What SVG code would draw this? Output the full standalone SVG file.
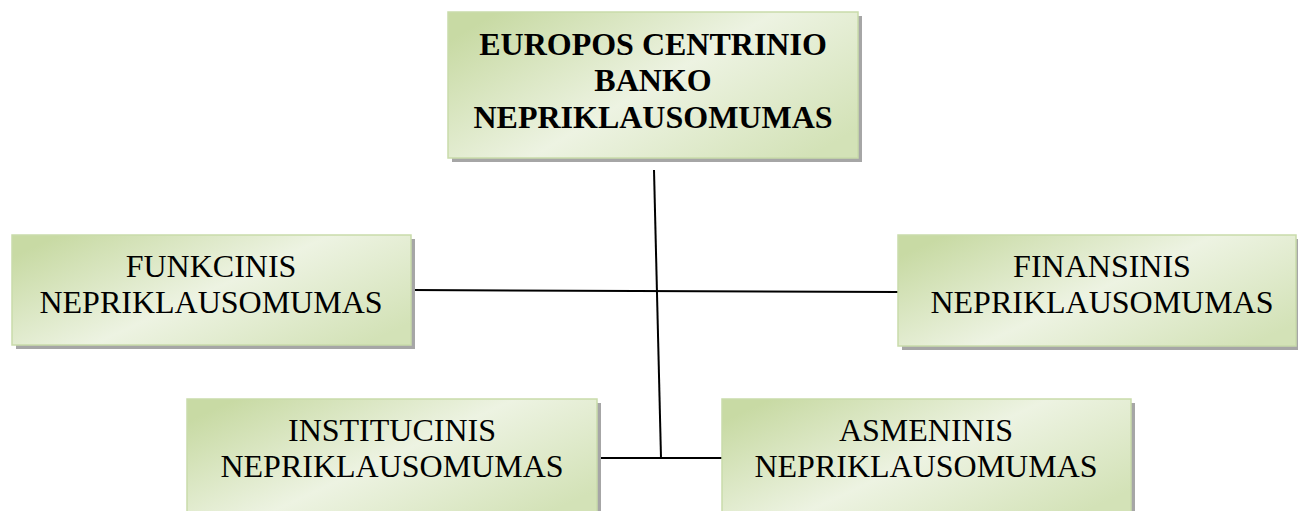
<svg xmlns="http://www.w3.org/2000/svg" width="1298" height="511" viewBox="0 0 1298 511">
<defs>
<linearGradient id="g" x1="0" y1="0.2" x2="1" y2="0.8">
<stop offset="0" stop-color="#c8daa4"/>
<stop offset="0.5" stop-color="#edf3e2"/>
<stop offset="1" stop-color="#d3e2b7"/>
</linearGradient>
<style>
.box{fill:url(#g);stroke:#c9dbaa;stroke-width:1.5}
.sh{fill:#a6a6a6}
.t{font-family:"Liberation Serif","Times New Roman",serif;font-size:32px;fill:#000;text-anchor:middle}
.b{font-weight:bold}
.c{stroke:#000;stroke-width:2;fill:none}
</style>
</defs>
<g id="connectors">
<line class="c" x1="654" y1="170" x2="661" y2="458"/>
<line class="c" x1="411" y1="290" x2="898" y2="292"/>
<line class="c" x1="597" y1="458" x2="722" y2="458"/>
</g>
<g id="node-ecb">
<rect class="sh" x="452" y="16" width="410" height="146"/>
<rect class="box" x="448" y="12" width="410" height="146"/>
<text class="t b" x="653" y="55">EUROPOS CENTRINIO</text>
<text class="t b" x="653" y="91">BANKO</text>
<text class="t b" x="653" y="128">NEPRIKLAUSOMUMAS</text>
</g>
<g id="node-funkcinis">
<rect class="sh" x="16" y="239" width="399" height="110"/>
<rect class="box" x="12" y="235" width="399" height="110"/>
<text class="t" x="211" y="277">FUNKCINIS</text>
<text class="t" x="211" y="313">NEPRIKLAUSOMUMAS</text>
</g>
<g id="node-finansinis">
<rect class="sh" x="902" y="239" width="398" height="111"/>
<rect class="box" x="898" y="235" width="398" height="111"/>
<text class="t" x="1102" y="277">FINANSINIS</text>
<text class="t" x="1102" y="313">NEPRIKLAUSOMUMAS</text>
</g>
<g id="node-institucinis">
<rect class="sh" x="191" y="403" width="410" height="112"/>
<rect class="box" x="187" y="399" width="410" height="114"/>
<text class="t" x="392" y="441">INSTITUCINIS</text>
<text class="t" x="392" y="477">NEPRIKLAUSOMUMAS</text>
</g>
<g id="node-asmeninis">
<rect class="sh" x="726" y="403" width="409" height="112"/>
<rect class="box" x="722" y="399" width="409" height="114"/>
<text class="t" x="926" y="441">ASMENINIS</text>
<text class="t" x="926" y="477">NEPRIKLAUSOMUMAS</text>
</g>
</svg>
